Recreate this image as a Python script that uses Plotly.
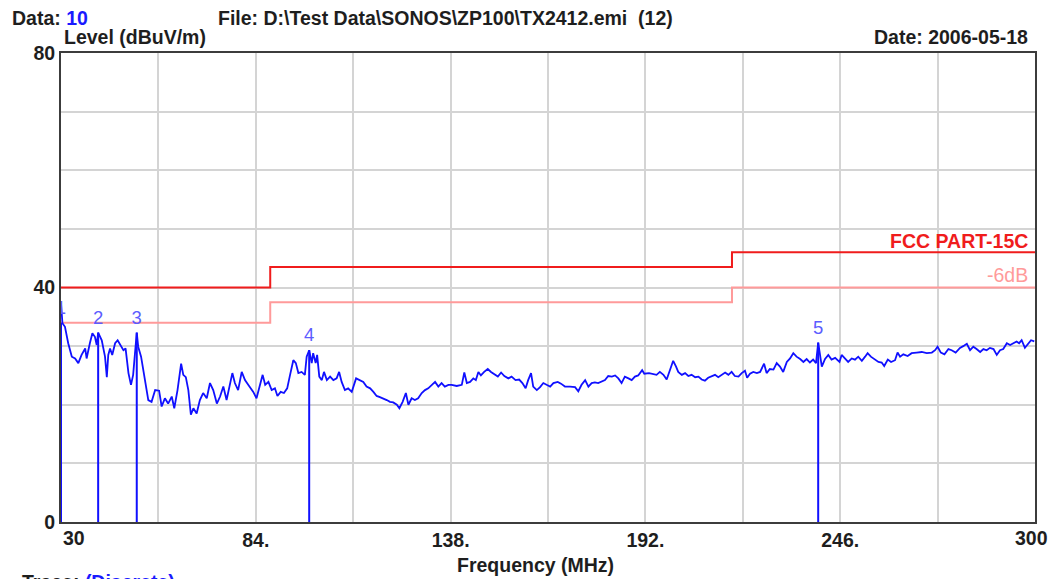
import plotly.graph_objects as go

# ---- data ----
freq_mhz = [30.0, 30.4, 31.1, 32.0, 33.0, 33.9, 34.8, 35.7, 36.7, 37.1, 38.0, 38.7, 39.4, 39.9, 40.3,
            41.3, 42.2, 42.7, 43.1, 43.6, 44.2, 45.0, 45.7, 46.4, 47.3, 47.9, 48.7, 49.4, 50.0, 51.0,
            51.4, 52.2, 52.8, 53.5, 54.2, 55.1, 56.1, 57.2, 57.9, 58.8, 59.7, 60.7, 61.4, 62.3, 63.3,
            63.9, 64.6, 65.3, 66.0, 66.7, 67.6, 68.5, 69.4, 70.4, 71.3, 72.2, 73.2, 74.1, 75.0, 75.9,
            76.8, 77.5, 78.2, 79.1, 80.1, 81.0, 81.9, 82.9, 83.3, 84.2, 85.2, 85.9, 86.6, 87.5, 88.4,
            89.3, 90.0, 90.9, 91.8, 92.7, 93.5, 94.4, 95.1, 95.8, 96.7, 97.6, 98.1, 98.8, 99.5, 99.9,
            100.6, 101.0, 101.6, 102.3, 102.9, 103.7, 104.6, 105.5, 106.4, 107.1, 107.8, 108.7, 109.6,
            110.6, 111.8, 112.9, 113.8, 114.7, 115.7, 116.6, 117.5, 118.4, 119.3, 120.3, 121.2, 122.1,
            123.1, 123.8, 124.7, 125.6, 126.3, 127.2, 128.1, 129.0, 130.0, 130.9, 131.8, 132.8, 133.7,
            134.6, 135.5, 136.4, 137.4, 138.3, 139.7, 141.1, 141.8, 142.5, 143.4, 144.3, 145.0, 145.7,
            146.4, 147.3, 148.3, 149.2, 150.1, 151.1, 152.0, 152.9, 154.0, 154.9, 156.0, 157.0, 157.9,
            158.8, 159.5, 160.3, 160.9, 161.9, 162.8, 163.7, 164.6, 165.6, 166.5, 167.7, 168.6, 169.7,
            171.1, 172.5, 173.4, 174.3, 175.3, 176.2, 177.1, 178.0, 178.9, 179.9, 180.8, 181.7, 182.7,
            183.6, 184.5, 185.4, 186.3, 187.3, 188.2, 189.1, 190.0, 191.1, 191.7, 193.0, 194.2, 195.1,
            196.0, 197.0, 197.9, 198.8, 199.7, 200.5, 201.1, 202.1, 203.0, 203.9, 204.8, 205.8, 206.7,
            207.6, 208.5, 209.4, 210.4, 211.3, 212.2, 213.2, 214.1, 215.0, 215.9, 216.8, 217.8, 218.7,
            219.6, 220.2, 221.0, 221.9, 222.9, 223.8, 224.9, 225.6, 226.5, 227.5, 228.4, 229.3, 230.2,
            231.2, 232.1, 233.0, 233.9, 234.9, 235.8, 236.7, 237.6, 238.5, 239.3, 239.9, 240.9, 241.8,
            242.7, 243.6, 244.6, 245.8, 246.4, 247.3, 248.2, 249.2, 250.1, 251.0, 252.0, 252.9, 253.6,
            254.5, 255.6, 256.6, 257.5, 258.2, 259.2, 260.1, 261.2, 261.9, 262.6, 263.5, 264.7, 265.8,
            267.2, 268.6, 270.0, 271.4, 272.3, 273.0, 273.9, 274.9, 276.0, 276.9, 278.0, 279.2, 280.1,
            281.1, 282.0, 282.9, 283.8, 284.8, 285.7, 286.6, 287.5, 288.5, 289.4, 290.3, 291.2, 292.2,
            293.1, 294.0, 294.9, 295.6, 296.3, 297.2, 298.1, 298.9, 299.8]
level_dbuv = [37.3, 33.9, 33.3, 30.5, 28.2, 27.9, 27.1, 28.5, 29.6, 27.9, 30.5, 32.2, 31.6, 30.2, 32.3,
              31.0, 28.2, 24.7, 28.5, 29.6, 28.5, 30.5, 31.0, 30.2, 29.3, 29.6, 25.4, 23.4, 25.1, 32.3,
              29.9, 28.2, 25.9, 23.7, 20.8, 20.5, 22.5, 22.4, 19.7, 21.1, 20.2, 21.4, 19.4, 22.5, 27.0,
              25.1, 24.7, 22.5, 18.3, 19.4, 18.5, 20.8, 22.0, 21.1, 23.7, 22.5, 20.2, 21.4, 23.1, 20.8,
              23.7, 25.4, 23.7, 22.5, 25.6, 24.2, 23.4, 22.5, 22.2, 21.1, 23.7, 25.1, 23.4, 23.9, 22.5,
              22.8, 21.5, 22.2, 22.0, 22.8, 25.1, 27.6, 27.1, 25.4, 25.6, 25.1, 28.2, 29.3, 27.1, 28.8,
              27.1, 28.5, 24.8, 24.2, 25.6, 24.2, 24.8, 24.2, 24.5, 25.6, 23.9, 22.5, 22.8,
              22.2, 24.5, 24.2, 23.9, 23.1, 22.8, 22.2, 21.5, 21.3, 21.1, 20.8, 20.5, 20.4,
              20.0, 19.4, 20.5, 22.0, 20.0, 21.1, 20.8, 21.1, 22.0, 22.5, 22.8, 23.4, 23.9,
              23.1, 23.7, 23.1, 23.4, 23.4, 23.2, 23.4, 25.5, 23.7, 23.9, 24.5, 24.2, 25.6,
              25.0, 25.6, 26.1, 25.6, 25.2, 24.8, 25.5, 24.9, 24.5, 24.8, 24.2, 24.3, 23.7,
              22.8, 24.2, 25.4, 23.1, 22.5, 23.0, 23.7, 23.4, 23.1, 23.7, 23.9, 23.6, 23.1,
              23.1, 23.0, 22.3, 23.4, 24.2, 23.1, 23.7, 23.8, 23.7, 23.9, 24.2, 24.9, 24.8,
              25.0, 24.5, 23.7, 24.8, 24.5, 24.2, 24.8, 25.0, 25.9, 25.3, 25.4, 25.3, 25.1,
              25.6, 25.1, 24.3, 25.9, 27.5, 26.5, 25.6, 25.1, 25.4, 24.9, 25.1, 24.7, 24.8,
              24.3, 24.1, 24.6, 24.8, 25.1, 24.7, 25.1, 25.5, 25.1, 25.6, 24.9, 24.8, 25.4,
              25.8, 24.6, 25.3, 25.6, 25.4, 25.6, 27.0, 25.4, 26.1, 26.0, 27.1, 26.5, 25.6,
              27.3, 27.9, 28.8, 28.2, 27.8, 27.3, 27.8, 27.2, 27.7, 27.1, 30.6, 26.5, 27.8,
              28.5, 27.7, 28.0, 27.3, 28.5, 27.9, 27.3, 27.9, 27.7, 28.2, 27.5, 28.2, 28.8,
              28.2, 27.7, 27.3, 27.2, 26.6, 27.7, 27.3, 27.6, 28.9, 28.2, 28.6, 28.3, 28.8,
              28.9, 29.0, 28.8, 28.9, 29.3, 29.9, 28.9, 28.6, 29.5, 29.3, 28.9, 29.7, 30.0,
              30.4, 29.3, 29.9, 29.5, 29.0, 29.5, 29.3, 29.7, 29.5, 28.5, 29.3, 29.5, 30.5,
              30.2, 30.5, 30.8, 30.5, 31.0, 29.7, 30.5, 31.0, 30.8]

marker_labels = ["1", "2", "3", "4", "5"]
marker_freq = [30.0, 40.3, 51.0, 98.8, 239.9]
marker_level = [34.0, 32.3, 32.3, 29.3, 30.6]

limit_freq = [30, 88, 216, 300]
fcc_limit = [40.0, 43.5, 46.0, 46.0]
limit_6db = [34.0, 37.5, 40.0, 40.0]

x_tick_vals = [30, 57, 84, 111, 138, 165, 192, 219, 246, 273, 300]
x_tick_text = ["", "", "84.", "", "138.", "", "192.", "", "246.", "", ""]
y_tick_vals = [0, 10, 20, 30, 40, 50, 60, 70, 80]
y_tick_text = ["0", "", "", "", "40", "", "", "", "80"]

FONT = "Liberation Sans"
FS = 19.5
TXT = "#1e1e1e"
BLUE = "#1010ff"
LBL = "#5c5cff"

fig = go.Figure()

fig.add_trace(go.Scatter(x=limit_freq, y=limit_6db, mode="lines", line_shape="hv",
                         line=dict(color="#ff9a9a", width=2), hoverinfo="skip"))
fig.add_trace(go.Scatter(x=limit_freq, y=fcc_limit, mode="lines", line_shape="hv",
                         line=dict(color="#f01c1c", width=2), hoverinfo="skip"))

fig.add_trace(go.Scatter(x=freq_mhz, y=level_dbuv, mode="lines",
                         line=dict(color=BLUE, width=1.8)))

for lab, f, lv in zip(marker_labels, marker_freq, marker_level):
    fig.add_trace(go.Scatter(x=[f, f], y=[0, lv], mode="lines",
                             line=dict(color=BLUE, width=2), hoverinfo="skip"))
fig.add_trace(go.Scatter(x=marker_freq, y=[v + 2.3 for v in marker_level], mode="text",
                         text=marker_labels, textposition="middle center", cliponaxis=True,
                         textfont=dict(family=FONT, size=18.5, color=LBL)))

# the page places the figure 8 px in from the window's top-left corner
# plot area in window pixels: x 61..1035, y 53..522
def px(x):
    return (x - 61) / 974.0

def py(y):
    return (522 - y) / 469.0

ann = [
    dict(text="<b>Data: <span style='color:#1a1aff'>10</span></b>", x=px(10), y=py(18), xanchor="left"),
    dict(text=r"<b>File: D:\Test Data\SONOS\ZP100\TX2412.emi&nbsp;&nbsp;(12)</b>", x=px(216), y=py(18), xanchor="left"),
    dict(text="<b>Level (dBuV/m)</b>", x=px(62), y=py(37), xanchor="left"),
    dict(text="<b>Date: 2006-05-18</b>", x=px(1030), y=py(37), xanchor="right"),
    dict(text="<b>Frequency (MHz)</b>", x=px(535), y=py(565), xanchor="center"),
    dict(text="<b>30</b>", x=px(61), y=py(538), xanchor="left"),
    dict(text="<b>300</b>", x=px(1050), y=py(538), xanchor="right"),
    dict(text="<b>Trace: <span style='color:#1a1aff'>(Discrete)</span></b>", x=px(20), y=py(582), xanchor="left"),
]
for a in ann:
    fig.add_annotation(xref="paper", yref="paper", showarrow=False, yanchor="middle",
                       font=dict(family=FONT, size=FS, color=TXT), **a)

fig.add_annotation(x=300, y=48.0, xref="x", yref="y", xanchor="right", yanchor="middle",
                   xshift=-5, showarrow=False, text="<b>FCC PART-15C</b>",
                   font=dict(family=FONT, size=FS, color="#f01c1c"))
fig.add_annotation(x=300, y=42.1, xref="x", yref="y", xanchor="right", yanchor="middle",
                   xshift=-5, showarrow=False, text="-6dB",
                   font=dict(family=FONT, size=FS, color="#ff9a9a"))

fig.update_layout(
    width=1048, height=571,
    margin=dict(l=53, r=21, t=45, b=57, autoexpand=False),
    paper_bgcolor="white", plot_bgcolor="white",
    showlegend=False,
    font=dict(family=FONT, size=FS, color=TXT),
)
fig.update_xaxes(range=[30, 300], tickvals=x_tick_vals, ticktext=x_tick_text, automargin=False,
                 showgrid=True, gridcolor="#d4d4d4", gridwidth=1.5, zeroline=False,
                 showline=True, linecolor="#3c3c3c", linewidth=2, mirror=True,
                 ticks="", ticklabelstandoff=0,
                 tickfont=dict(family=FONT, size=FS, color=TXT, weight="bold"))
fig.update_yaxes(range=[0, 80], tickvals=y_tick_vals, ticktext=y_tick_text, automargin=False,
                 showgrid=True, gridcolor="#d4d4d4", gridwidth=1.5, zeroline=False,
                 showline=True, linecolor="#3c3c3c", linewidth=2, mirror=True,
                 ticks="", ticklabelstandoff=0,
                 tickfont=dict(family=FONT, size=FS, color=TXT, weight="bold"))

fig.write_html("out.html")
